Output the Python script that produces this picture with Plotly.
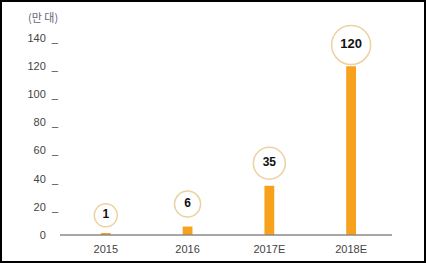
import plotly.graph_objects as go

categories = ["2015", "2016", "2017E", "2018E"]
values = [1, 6, 35, 120]
labels = ["1", "6", "35", "120"]
y_tickvals = [0, 20, 40, 60, 80, 100, 120, 140]
y_ticktext = ["0\u00a0\u00a0\u00a0\u00a0", "20\u00a0\u00a0_", "40\u00a0\u00a0_", "60\u00a0\u00a0_",
              "80\u00a0\u00a0_", "100\u00a0\u00a0_", "120\u00a0\u00a0_", "140\u00a0\u00a0_"]
unit_label = "(만 대)"

W, H = 426, 263
ML, MR, MT, MB = 60, 34, 31, 28
bar_color = "#f7a11c"
ring_color = "#e3c07a"
circle_offset = [13, 16, 16, 15]
circle_size = [23, 26, 32, 39]
text_size = [12, 12, 12, 13]

fig = go.Figure()
fig.add_trace(go.Bar(x=categories, y=values, marker_color=bar_color, width=0.12,
                     marker_line_width=0, hoverinfo="skip"))
fig.add_trace(go.Scatter(
    x=categories, y=[v + o for v, o in zip(values, circle_offset)],
    mode="markers+text", text=["<b>" + t + "</b>" for t in labels], textposition="middle center",
    textfont=dict(family="Liberation Sans, Arial, sans-serif", color="#111111", size=text_size),
    marker=dict(symbol="circle", size=circle_size, color="white",
                line=dict(color=ring_color, width=1.5)),
    hoverinfo="skip", cliponaxis=False))

pw = W - ML - MR
ph = H - MT - MB
def px_to_paper_x(px):
    return (px - ML) / pw
def px_to_paper_y(py):
    return (H - MB - py) / ph

fig.add_shape(type="rect", xref="paper", yref="paper",
              x0=px_to_paper_x(1), x1=px_to_paper_x(425),
              y0=px_to_paper_y(262), y1=px_to_paper_y(1),
              line=dict(color="black", width=2), fillcolor="rgba(0,0,0,0)", layer="above")
fig.add_shape(type="line", xref="paper", yref="paper",
              x0=0, x1=1, y0=0, y1=0, line=dict(color="#8a8a8a", width=1.5))

fig.add_annotation(text=unit_label, xref="paper", yref="paper",
                   x=px_to_paper_x(26), y=px_to_paper_y(17), xanchor="left", yanchor="middle",
                   showarrow=False,
                   font=dict(family="Noto Sans CJK KR", size=11, color="#666677"))

fig.update_layout(
    width=W, height=H, margin=dict(l=ML, r=MR, t=MT, b=MB, autoexpand=False),
    paper_bgcolor="white", plot_bgcolor="white", showlegend=False,
    font=dict(family="Liberation Sans, Arial, sans-serif", size=11, color="#444444"),
    bargap=0.5,
)
fig.update_xaxes(range=[-0.56, 3.5], showgrid=False, showline=False, zeroline=False,
                 ticks="", ticklabelstandoff=6, tickfont=dict(size=11, color="#444444"),
                 fixedrange=True, automargin=False)
fig.update_yaxes(range=[0, 145], showgrid=False, showline=False, zeroline=False,
                 tickmode="array", tickvals=y_tickvals, ticktext=y_ticktext, ticks="",
                 ticklabelstandoff=1, tickfont=dict(size=11, color="#444444"), fixedrange=True,
                 automargin=False)

fig.write_html("out.html")
